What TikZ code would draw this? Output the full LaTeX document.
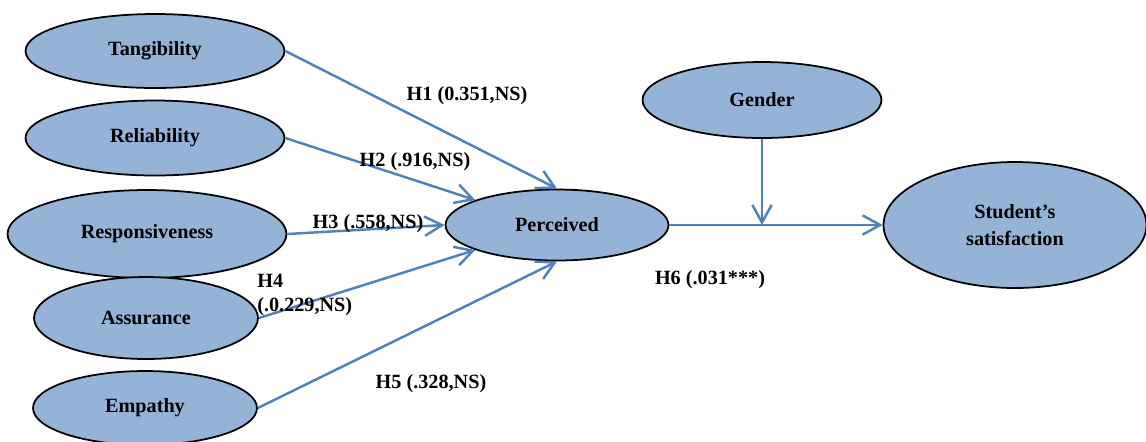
\documentclass[tikz,border=0pt]{standalone}
\usepackage{fontspec}
\setmainfont{Liberation Serif}
\usetikzlibrary{shapes.geometric,arrows.meta}
\definecolor{constructfill}{HTML}{95B3D7}
\definecolor{linkblue}{HTML}{4F81BD}
\tikzset{
  construct/.style={ellipse, draw=black, line width=1pt, fill=constructfill,
    inner sep=0pt, align=center, font=\bfseries\fontsize{11.5}{15}\selectfont},
  hyp/.style={draw=linkblue, line width=1.4pt, -{Straight Barb[length=10pt,width=11pt]}},
  hlabel/.style={inner sep=0pt, align=left, font=\bfseries\fontsize{11.5}{14}\selectfont}
}
\begin{document}
\begin{tikzpicture}[x=0.02cm, y=-0.02cm]
\useasboundingbox (0,0) rectangle (1146,441);
% constructs
\node[construct, minimum width=5.18cm, minimum height=1.48cm] (tang) at (155,51) {Tangibility};
\node[construct, minimum width=5.18cm, minimum height=1.5cm] (rel) at (155,138) {Reliability};
\node[construct, minimum width=5.58cm, minimum height=1.76cm] (resp) at (147,234) {Responsiveness};
\node[construct, minimum width=4.48cm, minimum height=1.64cm] (assur) at (146,318) {Assurance};
\node[construct, minimum width=4.48cm, minimum height=1.48cm] (emp) at (145,408) {Empathy};
\node[construct, minimum width=4.46cm, minimum height=1.42cm] (perc) at (557,225) {Perceived};
\node[construct, minimum width=4.78cm, minimum height=1.52cm] (gender) at (762,100) {Gender};
\node[construct, minimum width=5.26cm, minimum height=2.52cm] (sat) at (1015,225) {Student’s\\satisfaction};
\coordinate (mod) at (762,225);
% paths
\draw[hyp] (tang.east) -- (perc.north);
\draw[hyp] (rel.east) -- (perc.163);
\draw[hyp] (resp.east) -- (perc.west);
\draw[hyp] (assur.east) -- (perc.197);
\draw[hyp] (emp.east) -- (perc.south);
\draw[hyp] (perc.east) -- (sat.west);
\draw[hyp] (gender.south) -- (mod);
% labels
\node[hlabel] (h1) at (467,96) {H1 (0.351,NS)};
\node[hlabel] (h2) at (415,162) {H2 (.916,NS)};
\node[hlabel] (h3) at (368,224) {H3 (.558,NS)};
\node[hlabel, anchor=west] (h4) at (257,295) {H4\\(.0.229,NS)};
\node[hlabel] (h5) at (431,384) {H5 (.328,NS)};
\node[hlabel] (h6) at (710,280) {H6 (.031***)};
\end{tikzpicture}
\end{document}
